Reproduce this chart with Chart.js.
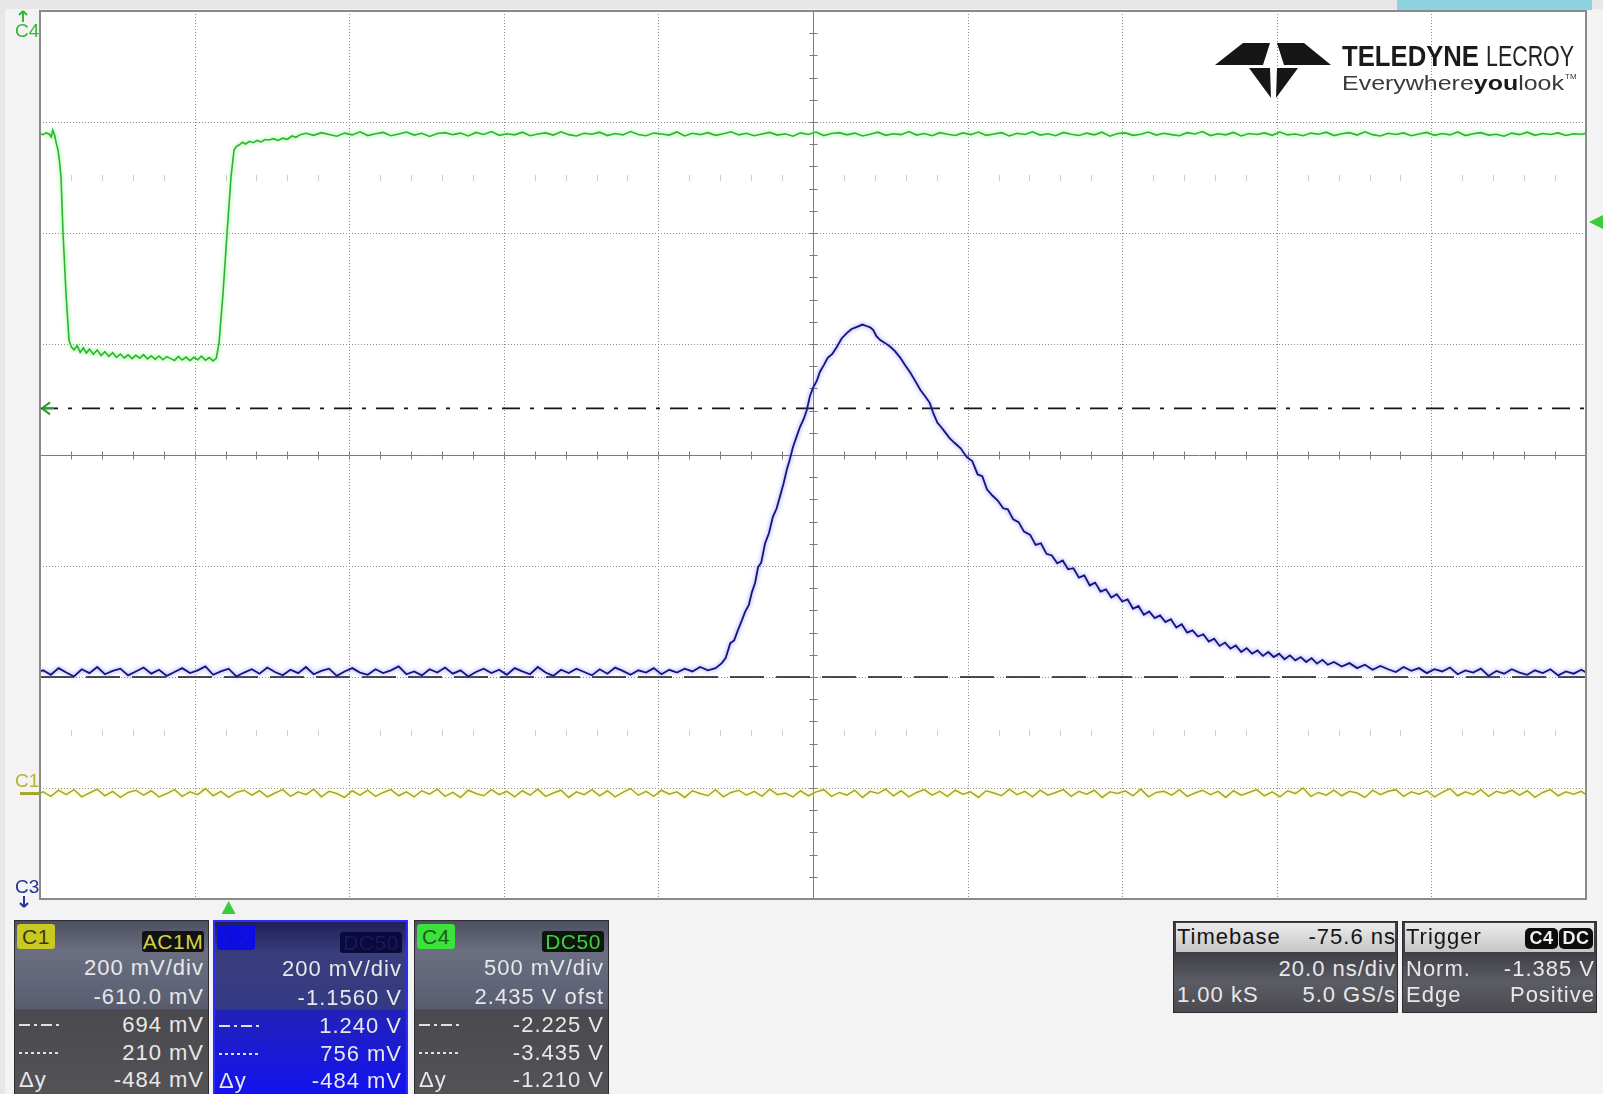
<!DOCTYPE html>
<html>
<head>
<meta charset="utf-8">
<title>Scope capture</title>
<script src="https://cdn.jsdelivr.net/npm/chart.js"></script>
<style>
  html, body { margin: 0; padding: 0; background: #f0f0f0; }
  #scope { position: relative; width: 1603px; height: 1094px; overflow: hidden; font-family: "Liberation Sans", Arial, sans-serif; }
  #scope canvas { position: absolute; left: 0; top: 0; }
  #logo { position: absolute; left: 0; top: 0; }
  .panel { position: absolute; box-sizing: border-box; overflow: hidden; color: #e8e8e8; font-size: 22px; letter-spacing: 1px; }
  .row { position: absolute; left: 4px; right: 4px; height: 28px; line-height: 28px; white-space: nowrap; }
  .row .l { position: absolute; left: 0; top: 0; }
  .row .r { position: absolute; right: 0; top: 0; }
  .tag { position: absolute; height: 25px; line-height: 25px; text-align: center; border-radius: 3px; font-size: 21px; letter-spacing: 0.5px; }
  .sym { display: inline-block; width: 42px; height: 2px; vertical-align: middle; margin-top: -3px; }
  .sym.dashdot { background: repeating-linear-gradient(to right, #e0e0e0 0 11px, transparent 11px 15px, #e0e0e0 15px 18px, transparent 18px 22px); }
  .sym.dots { background: repeating-linear-gradient(to right, #e0e0e0 0 3px, transparent 3px 6px); }
  .ch-gray { border: 1px solid #2c2c32; background: linear-gradient(to bottom, #4c5060 0px, #6a6e80 30px, #62667a 60px, #585c6e 88px, #4a4a4e 89px, #545458 100%); }
  .ch-blue { border: 2px solid #2c2cff; background: linear-gradient(to bottom, #20205a 0px, #3a3e7c 32px, #343a84 87px, #2222b8 88px, #1212f2 100%); }
  .info { border: 1px solid #2c2c30; background: linear-gradient(to bottom, #3e3e46 30px, #5c5c64 60px, #4a4a50 100%); }
  .info .head { position: absolute; left: 2px; right: 2px; top: 1px; height: 29px; background: linear-gradient(to bottom, #ececec, #c6c6c6); color: #141414; }
</style>
</head>
<body>
<div id="scope">
  <canvas id="screen" width="1603" height="1094"></canvas>
  <svg id="logo" width="1603" height="110">
    <g fill="#161616">
      <polygon points="1215,65 1243,43 1270,43 1263,65"/>
      <polygon points="1277,43 1304,43 1331,65 1284,65"/>
      <polygon points="1249,68 1270,68 1271,98"/>
      <polygon points="1277,68 1298,68 1276,98"/>
    </g>
    <text x="1342" y="66" font-family="Liberation Sans, Arial" font-weight="bold" font-size="30" textLength="137" lengthAdjust="spacingAndGlyphs" fill="#1a1a1a">TELEDYNE</text>
    <text x="1486" y="66" font-family="Liberation Sans Narrow, Liberation Sans, Arial" font-size="30" textLength="88" lengthAdjust="spacingAndGlyphs" fill="#222222">LECROY</text>
    <text x="1342" y="90" font-family="Liberation Sans, Arial" font-size="20" textLength="222" lengthAdjust="spacingAndGlyphs" fill="#3a3a3a">Everywhere<tspan font-weight="bold" fill="#1a1a1a">you</tspan>look</text>
    <text x="1565" y="79" font-family="Liberation Sans, Arial" font-size="8" fill="#3a3a3a">TM</text>
  </svg>
</div>
<script>
// 20 ns/div, 10 divisions, -75.6 ns delay -> screen spans -24.4 ns .. 175.6 ns
const timeStart = -24.4;
const timeEnd = 175.6;

// vertical settings per channel (8 divisions on screen)
const channelNames = ['C1', 'C2', 'C4'];
const voltsPerDiv = [0.2, 0.2, 0.5];
const screenCenter = [0.610, 1.156, -2.435];

// horizontal cursors, in C2 volts
const cursorLevels = [1.240, 0.756];
const triggerTime = 0;
const triggerLevel = -1.385; // C4 volts

// C4 (green) gate pulse: [ns, V]
const c4Trace = [
  [-24.4,-0.988],[-24.0,-0.992],[-23.6,-0.984],[-23.2,-0.990],[-22.95,-1.002],[-22.75,-0.972],[-22.5,-0.995],[-22.3,-1.030],
  [-22.07,-1.061],[-21.85,-1.120],[-21.68,-1.183],[-21.42,-1.435],[-21.04,-1.705],[-20.65,-1.917],[-20.35,-1.948],[-20.0,-1.962],
  [-19.6,-1.942],[-19.2,-1.973],[-18.8,-1.952],[-18.4,-1.976],[-18.0,-1.958],[-17.5,-1.981],[-17.0,-1.962],[-16.5,-1.987],
  [-16.0,-1.970],[-15.5,-1.991],[-15.0,-1.974],[-14.5,-1.995],[-14.0,-1.980],[-13.5,-1.998],[-13.0,-1.984],[-12.5,-2.001],
  [-12.0,-1.986],[-11.5,-1.999],[-11.0,-1.983],[-10.5,-2.002],[-10.0,-1.988],[-9.5,-2.004],[-9.0,-1.989],[-8.5,-2.006],
  [-8.0,-1.992],[-7.5,-2.001],[-7.0,-2.009],[-6.5,-1.991],[-6.0,-2.007],[-5.5,-1.994],[-5.0,-2.010],[-4.5,-1.995],
  [-4.0,-2.006],[-3.5,-1.990],[-3.0,-2.008],[-2.5,-1.996],[-2.0,-2.011],[-1.6,-2.000],[-1.24,-1.931],[-0.72,-1.705],
  [-0.2,-1.435],[0.31,-1.183],[0.7,-1.061],[1.0,-1.045],[1.35,-1.039],[1.8,-1.026],[2.2,-1.034],[2.7,-1.022],
  [3.2,-1.028],[3.7,-1.018],[4.2,-1.025],[4.7,-1.014],[5.2,-1.016],[5.8,-1.010],[6.4,-1.018],[7.0,-1.008],
  [7.6,-1.013],[8.2,-0.998],[8.7,-1.004],[9.3,-0.992],
  [10,-0.986],[11,-0.995],[12,-0.983],[13,-0.991],[14,-0.999],[15,-0.985],[16,-0.993],[17,-0.979],[18,-0.996],[19,-0.988],
  [20,-0.982],[21,-0.997],[22,-0.989],[23,-0.980],[24,-0.994],[25,-0.986],[26,-1.000],[27,-0.987],[28,-0.983],[29,-0.992],
  [30,-0.985],[31,-0.998],[32,-0.982],[33,-0.991],[34,-0.978],[35,-0.995],[36,-0.988],[37,-0.993],[38,-0.981],[39,-0.997],
  [40,-0.989],[41,-0.984],[42,-0.994],[43,-0.979],[44,-0.992],[45,-0.998],[46,-0.986],[47,-0.990],[48,-0.981],[49,-0.996],
  [50,-0.987],[51,-0.993],[52,-0.978],[53,-0.991],[54,-0.997],[55,-0.985],[56,-0.989],[57,-0.994],[58,-0.980],[59,-0.998],
  [60,-0.986],[61,-0.992],[62,-0.983],[63,-0.995],[64,-0.988],[65,-0.979],[66,-0.993],[67,-0.986],[68,-0.997],[69,-0.989],
  [70,-0.982],[71,-0.994],[72,-0.988],[73,-0.999],[74,-0.984],[75,-0.991],[76,-0.980],[77,-0.996],[78,-0.987],[79,-0.983],
  [80,-0.993],[81,-0.985],[82,-0.998],[83,-0.990],[84,-0.981],[85,-0.995],[86,-0.988],[87,-0.992],[88,-0.978],[89,-0.994],
  [90,-0.987],[91,-0.997],[92,-0.983],[93,-0.990],[94,-0.996],[95,-0.984],[96,-0.992],[97,-0.980],[98,-0.995],[99,-0.989],
  [100,-0.983],[101,-0.998],[102,-0.986],[103,-0.991],[104,-0.979],[105,-0.994],[106,-0.988],[107,-0.997],[108,-0.982],[109,-0.990],
  [110,-0.996],[111,-0.985],[112,-0.993],[113,-0.981],[114,-0.999],[115,-0.987],[116,-0.984],[117,-0.995],[118,-0.990],[119,-0.980],
  [120,-0.994],[121,-0.986],[122,-0.992],[123,-0.997],[124,-0.983],[125,-0.989],[126,-0.978],[127,-0.996],[128,-0.988],[129,-0.993],
  [130,-0.982],[131,-0.998],[132,-0.987],[133,-0.991],[134,-0.984],[135,-0.995],[136,-0.980],[137,-0.993],[138,-0.989],[139,-0.997],
  [140,-0.985],[141,-0.990],[142,-0.981],[143,-0.996],[144,-0.988],[145,-0.983],[146,-0.994],[147,-0.979],[148,-0.992],[149,-0.998],
  [150,-0.986],[151,-0.991],[152,-0.984],[153,-0.997],[154,-0.989],[155,-0.982],[156,-0.995],[157,-0.987],[158,-0.993],[159,-0.980],
  [160,-0.996],[161,-0.988],[162,-0.983],[163,-0.994],[164,-0.990],[165,-0.999],[166,-0.985],[167,-0.992],[168,-0.981],[169,-0.995],
  [170,-0.987],[171,-0.991],[172,-0.984],[173,-0.996],[174,-0.988],[175,-0.990],[175.6,-0.986]
];

// C2 (blue) detector pulse: [ns, V]
const c2Trace = [
  [-24.4,0.766],
  [-24,0.768],[-23,0.760],[-22,0.772],[-21,0.764],[-20,0.757],[-19,0.770],[-18,0.763],[-17,0.774],[-16,0.761],[-15,0.767],
  [-14,0.771],[-13,0.759],[-12,0.766],[-11,0.773],[-10,0.762],[-9,0.769],[-8,0.758],[-7,0.765],[-6,0.772],[-5,0.763],
  [-4,0.768],[-3,0.775],[-2,0.760],[-1,0.766],[0,0.771],[1,0.757],[2,0.764],[3,0.770],[4,0.762],[5,0.773],
  [6,0.765],[7,0.759],[8,0.769],[9,0.763],[10,0.774],[11,0.761],[12,0.767],[13,0.771],[14,0.758],[15,0.766],
  [16,0.772],[17,0.764],[18,0.760],[19,0.770],[20,0.763],[21,0.768],[22,0.775],[23,0.761],[24,0.766],[25,0.759],
  [26,0.770],[27,0.764],[28,0.773],[29,0.762],[30,0.768],[31,0.757],[32,0.765],[33,0.771],[34,0.763],[35,0.769],
  [36,0.760],[37,0.772],[38,0.766],[39,0.761],[40,0.774],[41,0.764],[42,0.758],[43,0.769],[44,0.763],[45,0.771],
  [46,0.765],[47,0.759],[48,0.770],[49,0.762],[50,0.773],[51,0.767],[52,0.760],[53,0.768],[54,0.764],[55,0.772],
  [56,0.761],[57,0.769],[58,0.764],[59,0.771],[60,0.766],[61,0.774],[62,0.768],[63,0.772],
  [63.8,0.781],[64.3,0.790],[64.9,0.817],[65.4,0.822],[65.9,0.841],[66.4,0.858],[66.8,0.873],[67.3,0.886],
  [67.7,0.909],[68.1,0.925],[68.5,0.954],[68.9,0.962],[69.4,0.997],[69.9,1.015],[70.4,1.044],[70.9,1.060],
  [71.3,1.080],[71.8,1.105],[72.2,1.129],[72.6,1.148],[73.0,1.170],[73.5,1.190],[73.9,1.206],[74.4,1.221],
  [74.8,1.237],[75.2,1.262],[75.6,1.277],[76.1,1.290],[76.5,1.306],[77.0,1.318],[77.5,1.331],[78.1,1.338],
  [78.7,1.351],[79.3,1.366],[80.0,1.376],[80.6,1.383],[81.3,1.387],[82.0,1.391],[82.6,1.388],[83.0,1.386],
  [83.4,1.381],[83.8,1.370],[84.3,1.363],[84.9,1.358],[85.6,1.351],[86.2,1.343],[86.9,1.331],[87.5,1.318],
  [88.2,1.304],[88.8,1.290],[89.5,1.273],[90.1,1.262],[90.7,1.250],[91.2,1.230],[91.7,1.214],[92.2,1.206],
  [92.8,1.195],[93.3,1.186],[93.9,1.178],
  [94.7,1.168],[95.5,1.152],[96.2,1.145],[96.9,1.121],[97.5,1.118],[98.1,1.094],[98.8,1.083],[99.5,1.074],
  [100.2,1.060],[100.8,1.058],[101.5,1.040],[102.2,1.035],[102.9,1.018],[103.7,1.012],[104.4,0.994],[105.1,0.997],
  [105.8,0.978],[106.5,0.975],[107.2,0.961],[107.9,0.966],[108.6,0.950],[109.3,0.952],[110.0,0.935],[110.7,0.939],
  [111.4,0.921],[112.1,0.926],[112.8,0.910],[113.5,0.914],[114.2,0.899],[114.9,0.905],[115.6,0.892],[116.3,0.896],
  [117.0,0.879],[117.7,0.884],[118.4,0.868],[119.1,0.874],[119.8,0.862],[120.5,0.867],[121.2,0.855],[121.9,0.860],
  [122.6,0.845],[123.3,0.851],[124.0,0.836],[124.7,0.840],[125.4,0.829],[126.1,0.833],[126.8,0.820],[127.5,0.825],
  [128.2,0.812],[128.9,0.818],[129.6,0.807],[130.3,0.813],[131.0,0.801],[131.7,0.808],[132.4,0.798],[133.1,0.804],
  [133.8,0.794],[134.5,0.801],[135.2,0.792],[135.9,0.798],[136.6,0.788],[137.3,0.795],[138.0,0.786],[138.7,0.792],
  [139.4,0.783],[140.1,0.790],[140.8,0.780],[141.5,0.787],[142.2,0.778],
  [143,0.783],[144,0.775],[145,0.781],[146,0.772],[147,0.778],[148,0.769],[149,0.776],[150,0.770],[151,0.765],[152,0.774],
  [153,0.767],[154,0.772],[155,0.763],[156,0.770],[157,0.766],[158,0.773],[159,0.761],[160,0.768],[161,0.764],[162,0.771],
  [163,0.758],[164,0.767],[165,0.762],[166,0.770],[167,0.764],[168,0.760],[169,0.768],[170,0.763],[171,0.770],[172,0.759],
  [173,0.766],[174,0.762],[175,0.769],[175.6,0.764]
];

// C1 (yellow) AC-coupled baseline: [ns, V]
const c1Trace = [
  [-24.4,0.001],
  [-24,0.003],[-23,-0.005],[-22,0.006],[-21,-0.002],[-20,0.007],[-19,-0.006],[-18,0.001],[-17,0.008],[-16,-0.004],[-15,0.004],
  [-14,-0.007],[-13,0.002],[-12,0.006],[-11,-0.003],[-10,0.005],[-9,-0.006],[-8,0.000],[-7,0.007],[-6,-0.005],[-5,0.003],
  [-4,-0.002],[-3,0.009],[-2,-0.004],[-1,0.004],[0,-0.007],[1,0.002],[2,0.006],[3,-0.003],[4,0.005],[5,-0.006],
  [6,0.001],[7,0.007],[8,-0.005],[9,0.003],[10,-0.002],[11,0.008],[12,-0.006],[13,0.004],[14,0.000],[15,-0.007],
  [16,0.005],[17,-0.003],[18,0.006],[19,-0.005],[20,0.002],[21,0.007],[22,-0.004],[23,0.003],[24,-0.006],[25,0.005],
  [26,-0.001],[27,0.008],[28,-0.005],[29,0.002],[30,-0.007],[31,0.006],[32,0.000],[33,-0.004],[34,0.007],[35,-0.002],
  [36,0.004],[37,-0.006],[38,0.005],[39,-0.003],[40,0.008],[41,-0.005],[42,0.001],[43,0.006],[44,-0.007],[45,0.003],
  [46,-0.002],[47,0.007],[48,-0.004],[49,0.005],[50,-0.006],[51,0.002],[52,0.009],[53,-0.003],[54,0.004],[55,-0.005],
  [56,0.006],[57,-0.001],[58,0.003],[59,-0.007],[60,0.005],[61,0.000],[62,-0.004],[63,0.007],[64,-0.006],[65,0.002],
  [66,0.006],[67,-0.003],[68,0.004],[69,-0.005],[70,0.008],[71,-0.002],[72,0.001],[73,-0.006],[74,0.005],[75,-0.004],
  [76,0.003],[77,0.007],[78,-0.005],[79,0.002],[80,-0.003],[81,0.006],[82,-0.007],[83,0.004],[84,0.000],[85,0.008],
  [86,-0.004],[87,0.005],[88,-0.006],[89,0.002],[90,0.007],[91,-0.003],[92,0.004],[93,-0.005],[94,0.006],[95,-0.001],
  [96,0.003],[97,-0.007],[98,0.005],[99,0.001],[100,-0.004],[101,0.008],[102,-0.002],[103,0.004],[104,-0.006],[105,0.006],
  [106,-0.003],[107,0.002],[108,0.007],[109,-0.005],[110,0.004],[111,-0.001],[112,0.006],[113,-0.007],[114,0.003],[115,0.000],
  [116,0.005],[117,-0.004],[118,0.008],[119,-0.006],[120,0.002],[121,0.004],[122,-0.003],[123,0.007],[124,-0.005],[125,0.001],
  [126,0.006],[127,-0.002],[128,0.004],[129,-0.007],[130,0.005],[131,-0.003],[132,0.002],[133,0.007],[134,-0.004],[135,0.003],
  [136,-0.006],[137,0.005],[138,0.000],[139,0.010],[140,-0.005],[141,0.002],[142,-0.003],[143,0.006],[144,-0.004],[145,0.004],
  [146,0.001],[147,-0.007],[148,0.006],[149,-0.002],[150,0.004],[151,0.007],[152,-0.005],[153,0.003],[154,-0.001],[155,0.005],
  [156,-0.006],[157,0.002],[158,0.009],[159,-0.004],[160,0.003],[161,-0.002],[162,0.007],[163,-0.005],[164,0.004],[165,0.000],
  [166,0.006],[167,-0.003],[168,0.005],[169,-0.007],[170,0.002],[171,0.007],[172,-0.004],[173,0.003],[174,-0.001],[175,0.004],
  [175.6,-0.002]
];

// readout panels
const c1Readout = ['200 mV/div', '-610.0 mV', '694 mV', '210 mV', '-484 mV'];
const c2Readout = ['200 mV/div', '-1.1560 V', '1.240 V', '756 mV', '-484 mV'];
const c4Readout = ['500 mV/div', '2.435 V ofst', '-2.225 V', '-3.435 V', '-1.210 V'];
const timebaseReadout = [['Timebase', '-75.6 ns'], ['', '20.0 ns/div'], ['1.00 kS', '5.0 GS/s']];
const triggerReadout = [['Trigger', ''], ['Norm.', '-1.385 V'], ['Edge', 'Positive']];

function toPoints(pairs) {
    return pairs.map(p => ({ x: p[0], y: p[1] }));
}

function line(ctx, x1, y1, x2, y2) {
    ctx.beginPath();
    ctx.moveTo(x1, y1);
    ctx.lineTo(x2, y2);
    ctx.stroke();
}

// --- graticule, border and channel markers ---
const graticule = {
    id: 'graticule',
    beforeDraw(chart) {
        const { ctx, chartArea: a } = chart;
        ctx.save();
        ctx.fillStyle = '#f3f3f3';
        ctx.fillRect(0, 0, chart.width, chart.height);
        ctx.fillStyle = '#e7e7e7';
        ctx.fillRect(0, 0, chart.width, 9);
        ctx.fillRect(0, 0, 5, chart.height);
        ctx.fillStyle = '#8fd2df';
        ctx.fillRect(1397, 0, 195, 10);
        ctx.fillStyle = '#ffffff';
        ctx.fillRect(a.left, a.top, a.right - a.left, a.bottom - a.top);
        ctx.restore();
    },
    beforeDatasetsDraw(chart) {
        const { ctx, chartArea: a } = chart;
        const gx = chart.scales.gx, gy = chart.scales.gy;
        const xc = Math.round(gx.getPixelForValue(5)) + 0.5;
        const yc = Math.round(gy.getPixelForValue(0)) + 0.5;
        ctx.save();
        ctx.lineWidth = 1;

        // faint sub-division marks
        ctx.strokeStyle = '#cdcdcd';
        [2.5, -2.5].forEach(v => {
            const y = Math.round(gy.getPixelForValue(v));
            for (let k = 1; k < 50; k++) {
                if (k % 5 === 0) continue;
                const x = Math.round(gx.getPixelForValue(k / 5)) + 0.5;
                line(ctx, x, y - 3, x, y + 3);
            }
        });

        // dotted divisions
        ctx.strokeStyle = '#8c8c8c';
        ctx.setLineDash([1, 2]);
        for (let i = 1; i < 10; i++) {
            if (i === 5) continue;
            const x = Math.round(gx.getPixelForValue(i)) + 0.5;
            line(ctx, x, a.top, x, a.bottom);
        }
        for (let j = -3; j <= 3; j++) {
            if (j === 0) continue;
            const y = Math.round(gy.getPixelForValue(j)) + 0.5;
            line(ctx, a.left, y, a.right, y);
        }

        // center axes with minor ticks
        ctx.setLineDash([]);
        ctx.strokeStyle = '#7c7c7c';
        line(ctx, xc, a.top, xc, a.bottom);
        line(ctx, a.left, yc, a.right, yc);
        for (let k = 1; k < 50; k++) {
            const x = Math.round(gx.getPixelForValue(k / 5)) + 0.5;
            line(ctx, x, yc - 4, x, yc + 4);
        }
        for (let k = 1; k < 40; k++) {
            const y = Math.round(gy.getPixelForValue(-4 + k / 5)) + 0.5;
            line(ctx, xc - 4, y, xc + 4, y);
        }
        ctx.restore();
    },
    afterDraw(chart) {
        const { ctx, chartArea: a } = chart;
        ctx.save();
        ctx.strokeStyle = '#8a8a8a';
        ctx.lineWidth = 2;
        ctx.strokeRect(a.left, a.top, a.right - a.left, a.bottom - a.top);

        ctx.font = '19px "Liberation Sans", Arial, sans-serif';
        ctx.textBaseline = 'alphabetic';

        // C4 ground is above the screen
        ctx.strokeStyle = '#35b935';
        ctx.fillStyle = '#35b935';
        ctx.lineWidth = 2;
        line(ctx, 23, 22, 23, 11);
        line(ctx, 19, 15, 23, 11);
        line(ctx, 27, 15, 23, 11);
        ctx.fillText('C4', 15, 37);

        // C1 ground marker
        const y1 = chart.scales.yC1.getPixelForValue(0);
        ctx.fillStyle = '#b4b42e';
        ctx.fillText('C1', 15, 787);
        ctx.strokeStyle = '#a6a626';
        ctx.lineWidth = 3;
        line(ctx, 20, y1, a.left, y1);

        // C3 ground is below the screen
        ctx.fillStyle = '#22339a';
        ctx.strokeStyle = '#22339a';
        ctx.lineWidth = 2;
        ctx.fillText('C3', 15, 893);
        line(ctx, 24, 896, 24, 907);
        line(ctx, 20, 903, 24, 907);
        line(ctx, 28, 903, 24, 907);

        // cursor handle on the left
        const yCur = chart.scales.yC2.getPixelForValue(cursorLevels[0]);
        ctx.strokeStyle = '#2f9a2f';
        line(ctx, 50, yCur - 6, 42, yCur);
        line(ctx, 50, yCur + 6, 42, yCur);
        line(ctx, 42, yCur, 54, yCur);

        // trigger level and trigger time
        const yTrig = chart.scales.yC4.getPixelForValue(triggerLevel);
        const xTrig = chart.scales.x.getPixelForValue(triggerTime);
        ctx.fillStyle = '#38cc38';
        ctx.beginPath();
        ctx.moveTo(1589, yTrig);
        ctx.lineTo(1603, yTrig - 7);
        ctx.lineTo(1603, yTrig + 7);
        ctx.closePath();
        ctx.fill();
        ctx.beginPath();
        ctx.moveTo(xTrig, a.bottom + 2);
        ctx.lineTo(xTrig - 7, a.bottom + 15);
        ctx.lineTo(xTrig + 7, a.bottom + 15);
        ctx.closePath();
        ctx.fill();
        ctx.restore();
    }
};

// soft phosphor glow around each trace
const glow = {
    id: 'glow',
    beforeDatasetDraw(chart, args) {
        const ds = chart.data.datasets[args.index];
        chart.ctx.save();
        if (ds.glow) {
            chart.ctx.shadowColor = ds.glow;
            chart.ctx.shadowBlur = 4;
        }
    },
    afterDatasetDraw(chart) {
        chart.ctx.restore();
    }
};

const yScales = {};
channelNames.forEach((name, i) => {
    yScales['y' + name] = {
        type: 'linear',
        display: false,
        min: screenCenter[i] - 4 * voltsPerDiv[i],
        max: screenCenter[i] + 4 * voltsPerDiv[i]
    };
});

const ctx = document.getElementById('screen').getContext('2d');
new Chart(ctx, {
    type: 'line',
    data: {
        datasets: [
            { label: 'C4', data: toPoints(c4Trace), yAxisID: 'yC4', borderColor: '#2db42d', glow: 'rgba(110,255,110,0.95)', borderWidth: 1.6, order: 0 },
            { label: 'C2', data: toPoints(c2Trace), yAxisID: 'yC2', borderColor: '#15157c', glow: 'rgba(100,100,255,0.8)', borderWidth: 1.8, order: 0 },
            { label: 'C1', data: toPoints(c1Trace), yAxisID: 'yC1', borderColor: '#a5a52a', glow: 'rgba(245,245,110,0.95)', borderWidth: 1.5, order: 0 },
            { label: 'cursor A', data: [{ x: timeStart, y: cursorLevels[0] }, { x: timeEnd, y: cursorLevels[0] }], yAxisID: 'yC2', borderColor: '#151515', borderWidth: 1.6, borderDash: [18, 10, 4, 10], order: 1 },
            { label: 'cursor B', data: [{ x: timeStart, y: cursorLevels[1] }, { x: timeEnd, y: cursorLevels[1] }], yAxisID: 'yC2', borderColor: '#151515', borderWidth: 1.6, borderDash: [34, 12], order: 1 }
        ]
    },
    options: {
        responsive: false,
        animation: false,
        events: [],
        layout: { padding: { left: 40, top: 11, right: 17, bottom: 195 } },
        elements: {
            point: { radius: 0 },
            line: { tension: 0, fill: false }
        },
        plugins: { legend: { display: false }, tooltip: { enabled: false } },
        scales: Object.assign({
            x: { type: 'linear', display: false, min: timeStart, max: timeEnd },
            gx: { type: 'linear', axis: 'x', position: 'bottom', display: false, min: 0, max: 10 },
            gy: { type: 'linear', axis: 'y', position: 'left', display: false, min: -4, max: 4 }
        }, yScales)
    },
    plugins: [graticule, glow]
});

// --- readout panels ---
const scope = document.getElementById('scope');
const rowTops = [33, 62, 90, 118, 145];
const rowMarks = ['', '', '<span class="sym dashdot"></span>', '<span class="sym dots"></span>', 'Δy'];

function channelPanel(left, cls, name, nameStyle, coupling, couplingStyle, lines) {
    const p = document.createElement('div');
    p.className = 'panel ' + cls;
    p.style.left = left + 'px';
    p.style.top = '920px';
    p.style.width = '195px';
    p.style.height = '180px';
    let html = `<div class="tag" style="left:2px;top:3px;width:38px;${nameStyle}">${name}</div>`;
    html += `<div class="tag" style="right:4px;top:10px;width:62px;height:21px;line-height:21px;${couplingStyle}">${coupling}</div>`;
    lines.forEach((txt, i) => {
        html += `<div class="row" style="top:${rowTops[i]}px"><span class="l">${rowMarks[i]}</span><span class="r">${txt}</span></div>`;
    });
    p.innerHTML = html;
    scope.appendChild(p);
}

channelPanel(14, 'ch-gray', 'C1', 'background:#c9c923;color:#3a3a10;', 'AC1M', 'background:#121212;color:#d2d24a;', c1Readout);
channelPanel(213, 'ch-blue', 'C2', 'background:#0c0ce6;color:#1414cc;', 'DC50', 'background:#0a0a3c;color:#191960;', c2Readout);
channelPanel(414, 'ch-gray', 'C4', 'background:#3ae23a;color:#1f5a1f;', 'DC50', 'background:#0e140e;color:#3fd03f;', c4Readout);

function infoPanel(left, width, rows, extra) {
    const p = document.createElement('div');
    p.className = 'panel info';
    p.style.left = left + 'px';
    p.style.top = '921px';
    p.style.width = width + 'px';
    p.style.height = '92px';
    let html = '<div class="head"></div>';
    const tops = [1, 33, 59];
    rows.forEach((r, i) => {
        const color = i === 0 ? 'color:#141414;' : '';
        html += `<div class="row" style="left:3px;right:1px;top:${tops[i]}px;${color}"><span class="l">${r[0]}</span><span class="r">${r[1]}</span></div>`;
    });
    p.innerHTML = html + (extra || '');
    scope.appendChild(p);
}

infoPanel(1173, 225, timebaseReadout);
infoPanel(1402, 195, triggerReadout,
    '<div class="tag" style="right:38px;top:6px;width:33px;height:21px;line-height:21px;background:#0c0c0c;color:#f0f0f0;font-weight:bold;font-size:18px;border-radius:5px;">C4</div>' +
    '<div class="tag" style="right:3px;top:6px;width:34px;height:21px;line-height:21px;background:#0c0c0c;color:#f0f0f0;font-weight:bold;font-size:18px;border-radius:5px;">DC</div>');
</script>
</body>
</html>
